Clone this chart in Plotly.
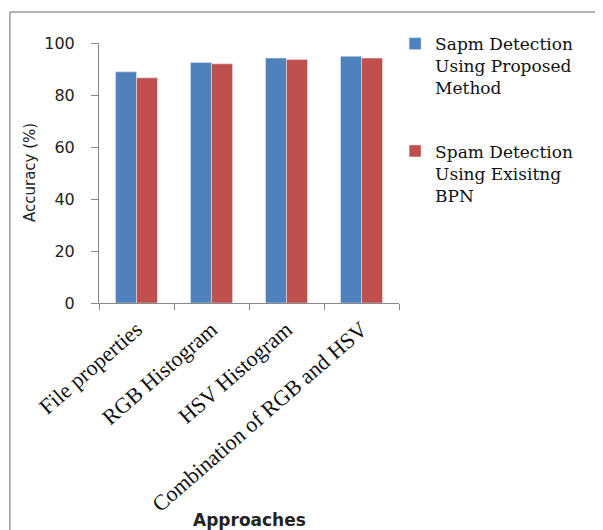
import plotly.graph_objects as go

categories = ["File properties", "RGB Histogram", "HSV Histogram", "Combination of RGB and HSV"]
proposed = [88.9, 92.5, 94.2, 94.9]
existing = [86.6, 92.0, 93.7, 94.2]
series_names = ["Sapm Detection<br>Using Proposed<br>Method", "Spam Detection<br>Using Exisitng<br>BPN"]
y_ticks = [0, 20, 40, 60, 80, 100]

fig = go.Figure()
fig.add_trace(go.Bar(x=categories, y=proposed, name=series_names[0], marker_color="#4F81BD",
                     legendgroup="a"))
fig.add_trace(go.Bar(x=categories, y=existing, name=series_names[1], marker_color="#C0504D",
                     legendgroup="b"))

fig.update_layout(
    width=603, height=530,
    margin=dict(l=91, r=212, t=35, b=235, autoexpand=False),
    paper_bgcolor="white", plot_bgcolor="white",
    barmode="group", bargap=0.44, bargroupgap=0,
    showlegend=True,
    legend=dict(x=0.987, y=1.065, xanchor="left", yanchor="top", valign="top",
                font=dict(family="DejaVu Serif", size=17, color="#111"),
                tracegroupgap=38, itemwidth=30, bgcolor="rgba(0,0,0,0)"),
    font=dict(family="DejaVu Sans", color="#222"),
)
fig.update_xaxes(
    showline=True, linecolor="#888", linewidth=1,
    ticks="outside", ticklen=6, tickcolor="#888", tickson="boundaries",
    tickangle=-41, ticklabelstandoff=4,
    tickfont=dict(family="Liberation Serif", size=22, color="#111"),
    showgrid=False,
)
fig.update_yaxes(
    range=[0, 100], tickvals=y_ticks,
    showline=True, linecolor="#888", linewidth=1,
    ticks="outside", ticklen=7, tickcolor="#888", ticklabelstandoff=13,
    tickfont=dict(family="DejaVu Sans", size=16, color="#222"),
    showgrid=False, zeroline=False,
)
fig.add_annotation(text="<b>Approaches</b>", xref="paper", yref="paper", x=0.5, y=-0.835,
                   showarrow=False, xanchor="center", yanchor="middle",
                   font=dict(family="DejaVu Sans", size=17, color="#222"))
fig.add_annotation(text="Accuracy (%)", xref="paper", yref="paper", x=-0.23, y=0.5,
                   showarrow=False, xanchor="center", yanchor="middle", textangle=-90,
                   font=dict(family="DejaVu Sans", size=15, color="#222"))
# outer chart frame (top and left edges visible)
fig.add_shape(type="line", xref="paper", yref="paper", x0=-0.297, x1=1.8, y0=1.119, y1=1.119,
              line=dict(color="#999", width=1.5))
fig.add_shape(type="line", xref="paper", yref="paper", x0=-0.297, x1=-0.297, y0=1.119, y1=-1.0,
              line=dict(color="#999", width=1.5))

fig.write_html("out.html")
